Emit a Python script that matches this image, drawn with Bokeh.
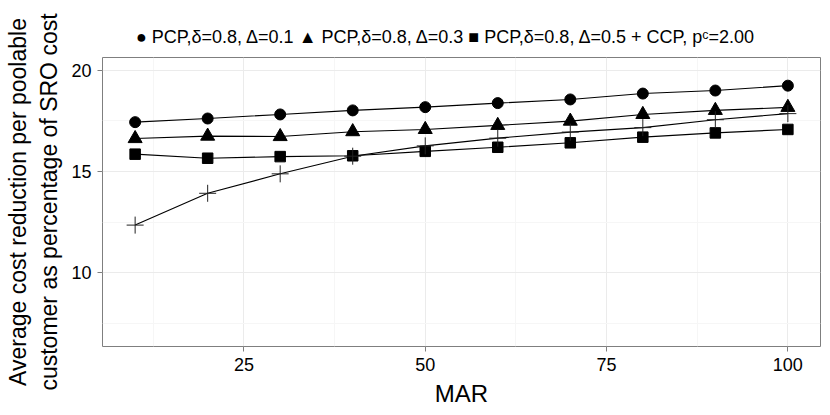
from bokeh.plotting import figure
from bokeh.models import Range1d, FixedTicker, Title
from bokeh.embed import file_html
from bokeh.resources import INLINE

# ---- data ----
mar = [10, 20, 30, 40, 50, 60, 70, 80, 90, 100]
pcp_delta_01 = [17.44, 17.62, 17.82, 18.02, 18.18, 18.38, 18.56, 18.85, 19.00, 19.24]
pcp_delta_03 = [16.63, 16.75, 16.73, 16.97, 17.08, 17.28, 17.49, 17.82, 18.02, 18.17]
pcp_delta_05 = [15.86, 15.66, 15.74, 15.78, 16.00, 16.20, 16.42, 16.70, 16.91, 17.08]
ccp_pc_200 = [12.36, 13.93, 14.89, 15.76, 16.27, 16.65, 16.95, 17.17, 17.56, 17.86]

series_labels = ["PCP,\u03b4=0.8, \u0394=0.1", "PCP,\u03b4=0.8, \u0394=0.3",
                 "PCP,\u03b4=0.8, \u0394=0.5", "CCP, p\u1d9c=2.00"]
legend_symbols = ["\u25cf", "\u25b2", "\u25a0", "+"]
x_ticks = [25, 50, 75, 100]
y_ticks = [10, 15, 20]

FONT = "Liberation Sans"

p = figure(width=830, height=415,
           x_range=Range1d(5.5, 104.5), y_range=Range1d(6.37, 20.63),
           output_backend="svg", toolbar_location=None,
           min_border_left=102, min_border_right=10,
           min_border_top=57, min_border_bottom=69)

p.background_fill_color = "white"
p.border_fill_color = "white"
p.outline_line_color = "#7f7f7f"
p.outline_line_width = 1

xstep = x_ticks[1] - x_ticks[0]
ystep = y_ticks[1] - y_ticks[0]
p.xaxis.ticker = FixedTicker(ticks=x_ticks,
                             minor_ticks=[t - xstep / 2 for t in x_ticks])
p.yaxis.ticker = FixedTicker(ticks=y_ticks,
                             minor_ticks=[t - ystep / 2 for t in y_ticks] + [y_ticks[-1] + ystep / 2])

for g in (p.xgrid, p.ygrid):
    g.grid_line_color = "#ebebeb"
    g.grid_line_width = 1
    g.minor_grid_line_color = "#f6f6f6"
    g.minor_grid_line_width = 1

for ax in (p.xaxis, p.yaxis):
    ax.axis_line_color = None
    ax.major_tick_line_color = "#7f7f7f"
    ax.major_tick_out = 5
    ax.major_tick_in = 0
    ax.minor_tick_line_color = None
    ax.major_label_text_font = FONT
    ax.major_label_text_font_size = "18px"
    ax.major_label_text_color = "black"
    ax.major_label_standoff = 6
    ax.axis_label_text_font = FONT
    ax.axis_label_text_font_style = "normal"
    ax.axis_label_text_color = "black"
    ax.axis_label_standoff = 6

p.xaxis.axis_label_text_font_size = "24px"
p.yaxis.axis_label_text_font_size = "23px"
p.xaxis.axis_label = "MAR"
p.yaxis.axis_label = "Average cost reduction per poolable\ncustomer as percentage of SRO cost"

specs = [
    (pcp_delta_01, "circle", 11),
    (pcp_delta_03, "triangle", 14),
    (pcp_delta_05, "square", 10.5),
    (ccp_pc_200, "cross", 17),
]

for vals, marker, size in specs:
    p.line(mar, vals, line_color="black", line_width=1.1)
    if marker == "cross":
        p.scatter(mar, vals, marker=marker, size=size,
                  line_color="#222222", line_width=1, fill_color=None)
    else:
        p.scatter(mar, vals, marker=marker, size=size,
                  fill_color="black", line_color="black", line_width=1)

# legend strip above the panel (symbol + label for each series)
legend_text = "   ".join(f"{s} {lab}" for s, lab in zip(legend_symbols, series_labels))
p.add_layout(Title(text=legend_text, align="center", text_font=FONT,
                   text_font_size="18px", text_font_style="normal",
                   text_color="black", standoff=22), "above")

open("out.html", "w").write(file_html(p, INLINE))
